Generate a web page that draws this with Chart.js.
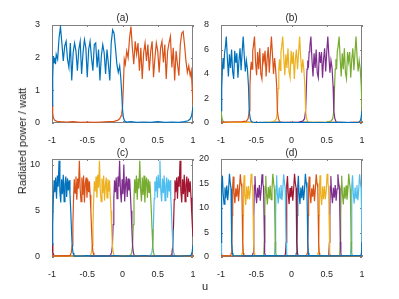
<!DOCTYPE html>
<html>
<head>
<meta charset="utf-8">
<script src="https://cdn.jsdelivr.net/npm/chart.js@4.4.1/dist/chart.umd.min.js"></script>
<style>
  html, body { margin: 0; padding: 0; background: #fff; }
  body { width: 399px; height: 299px; position: relative; overflow: hidden; font-family: "Liberation Sans", Arial, sans-serif; color: #262626; }
  canvas { position: absolute; left: 0; top: 0; }
  .lbl { position: absolute; transform: translate(-50%, -50%); white-space: nowrap; font-size: 10px; }
  .ylab { position: absolute; transform: translate(-50%, -50%) rotate(-90deg); white-space: nowrap; font-size: 11px; }
</style>
</head>
<body>
<canvas id="ca" width="399" height="299"></canvas>
<canvas id="cb" width="399" height="299"></canvas>
<canvas id="cc" width="399" height="299"></canvas>
<canvas id="cd" width="399" height="299"></canvas>
<div class="lbl" style="left:122.5px;top:16.5px">(a)</div>
<div class="lbl" style="left:291.5px;top:16.5px">(b)</div>
<div class="lbl" style="left:122.5px;top:151.5px">(c)</div>
<div class="lbl" style="left:291.5px;top:151.5px">(d)</div>
<div class="lbl" style="left:205px;top:286px;font-size:11px">u</div>
<div class="ylab" style="left:22px;top:141px">Radiated power / watt</div>
<script>
const colors = ['#0072BD', '#D95319', '#EDB120', '#7E2F8E', '#77AC30', '#4DBEEE', '#A2142F'];

const xTicks = [-1, -0.5, 0, 0.5, 1];
const yTicksA = [0, 1, 2, 3];
const yTicksB = [0, 2, 4, 6, 8];
const yTicksC = [0, 5, 10];
const yTicksD = [0, 5, 10, 15, 20];

// (a) two beams, [u, power]
const a1 = [[-1,0.52],[-0.99,1.4],[-0.98,2.05],[-0.97,1.85],[-0.96,2.0],[-0.95,1.8],[-0.94,2.1],[-0.92,1.95],[-0.90,2.6],[-0.88,2.95],[-0.86,2.45],[-0.84,1.9],[-0.82,2.35],[-0.80,2.5],[-0.78,1.95],[-0.76,1.7],[-0.74,2.45],[-0.72,1.3],[-0.70,2.15],[-0.68,2.45],[-0.66,2.2],[-0.64,1.6],[-0.62,2.25],[-0.60,2.5],[-0.58,1.5],[-0.56,2.15],[-0.54,2.55],[-0.52,2.3],[-0.50,1.4],[-0.48,2.25],[-0.46,2.5],[-0.44,2.0],[-0.42,1.6],[-0.40,2.4],[-0.38,2.45],[-0.36,1.7],[-0.34,2.25],[-0.32,1.3],[-0.30,2.05],[-0.28,2.4],[-0.26,2.15],[-0.24,1.5],[-0.22,2.25],[-0.20,1.8],[-0.18,1.3],[-0.16,2.45],[-0.14,2.85],[-0.12,2.75],[-0.10,2.3],[-0.08,1.8],[-0.06,1.55],[-0.04,1.75],[-0.025,1.4],[-0.012,0.95],[0,0.42],[0.012,0.18],[0.03,0.06],[0.06,0.03],[0.12,0.04],[0.2,0.02],[0.3,0.03],[0.4,0.02],[0.5,0.04],[0.6,0.02],[0.7,0.03],[0.8,0.02],[0.88,0.04],[0.93,0.07],[0.96,0.12],[0.98,0.22],[0.99,0.35],[1,0.5]];
const a2 = [[-1,0.55],[-0.99,0.3],[-0.98,0.15],[-0.96,0.08],[-0.93,0.05],[-0.88,0.04],[-0.8,0.03],[-0.7,0.04],[-0.6,0.02],[-0.5,0.03],[-0.4,0.02],[-0.3,0.03],[-0.2,0.04],[-0.12,0.05],[-0.07,0.08],[-0.04,0.13],[-0.02,0.22],[-0.01,0.32],[0,0.45],[0.012,1.1],[0.025,1.95],[0.04,1.8],[0.06,2.2],[0.08,2.0],[0.10,2.6],[0.12,2.95],[0.14,2.3],[0.16,1.8],[0.18,2.5],[0.20,2.1],[0.22,2.45],[0.24,1.6],[0.26,2.3],[0.28,1.35],[0.30,2.15],[0.32,2.45],[0.34,1.9],[0.36,2.4],[0.38,1.6],[0.40,2.2],[0.42,2.5],[0.44,1.4],[0.46,2.0],[0.48,2.45],[0.50,2.2],[0.52,1.55],[0.54,2.3],[0.56,2.5],[0.58,1.85],[0.60,2.4],[0.62,1.35],[0.64,2.2],[0.66,2.45],[0.68,2.65],[0.70,1.7],[0.72,2.3],[0.74,1.3],[0.76,2.2],[0.78,1.8],[0.80,1.45],[0.82,2.4],[0.84,2.75],[0.86,2.8],[0.88,2.4],[0.90,1.9],[0.92,1.55],[0.94,1.75],[0.96,1.45],[0.975,1.6],[0.988,1.1],[1,0.55]];

// (b) five beams
const b1 = [[-1,1.0],[-0.99,2.8],[-0.98,4.5],[-0.97,5.3],[-0.96,4.4],[-0.95,5.7],[-0.94,6.1],[-0.925,7.05],[-0.91,5.3],[-0.895,3.8],[-0.88,5.6],[-0.865,4.5],[-0.85,6.0],[-0.835,4.2],[-0.82,3.6],[-0.805,5.9],[-0.79,4.9],[-0.775,5.7],[-0.76,3.7],[-0.745,5.1],[-0.73,6.1],[-0.715,4.3],[-0.70,5.8],[-0.685,7.05],[-0.67,5.5],[-0.655,4.2],[-0.64,5.1],[-0.625,4.4],[-0.61,3.0],[-0.6,1.0],[-0.585,0.35],[-0.57,0.12],[-0.55,0.06],[-0.5,0.04],[-0.4,0.05],[-0.3,0.03],[-0.2,0.05],[-0.1,0.03],[0,0.04],[0.1,0.03],[0.2,0.05],[0.3,0.03],[0.4,0.04],[0.5,0.03],[0.7,0.05],[0.9,0.04],[0.95,0.05],[0.97,0.12],[0.985,0.35],[1,1.0]];
const b2 = [[-1,0.05],[-0.9,0.08],[-0.8,0.1],[-0.7,0.12],[-0.64,0.15],[-0.615,0.35],[-0.6,1.0],[-0.59,2.9],[-0.58,4.4],[-0.57,5.0],[-0.56,4.4],[-0.55,5.9],[-0.54,6.3],[-0.525,7.05],[-0.51,5.0],[-0.495,3.9],[-0.48,5.8],[-0.465,4.4],[-0.45,6.1],[-0.435,4.0],[-0.42,3.6],[-0.405,5.7],[-0.39,5.0],[-0.375,5.9],[-0.36,3.8],[-0.345,5.3],[-0.33,6.2],[-0.315,4.1],[-0.30,5.6],[-0.285,7.05],[-0.27,5.6],[-0.255,4.0],[-0.24,5.3],[-0.225,4.4],[-0.21,3.0],[-0.2,1.0],[-0.185,0.35],[-0.17,0.12],[-0.15,0.06],[-0.1,0.04],[0,0.05],[0.1,0.03],[0.2,0.05],[0.3,0.04],[0.4,0.05],[0.5,0.03],[0.6,0.05],[0.7,0.04],[0.8,0.03],[0.9,0.05],[1,0.04]];
const b3 = [[-1,0.04],[-0.8,0.05],[-0.6,0.04],[-0.4,0.05],[-0.3,0.08],[-0.24,0.15],[-0.215,0.35],[-0.2,1.0],[-0.19,2.8],[-0.18,4.4],[-0.17,5.2],[-0.16,4.3],[-0.15,5.8],[-0.14,6.2],[-0.125,7.05],[-0.11,5.4],[-0.095,3.9],[-0.08,5.6],[-0.065,4.5],[-0.05,6.1],[-0.035,4.2],[-0.02,3.7],[-0.005,5.9],[0.01,4.8],[0.025,5.8],[0.04,3.6],[0.055,5.2],[0.07,6.0],[0.085,4.4],[0.10,5.7],[0.115,7.05],[0.13,5.4],[0.145,4.1],[0.16,5.2],[0.175,4.4],[0.19,3.0],[0.2,1.0],[0.215,0.35],[0.23,0.12],[0.25,0.06],[0.3,0.05],[0.4,0.04],[0.6,0.05],[0.8,0.04],[1,0.05]];
const b4 = [[-1,0.05],[-0.8,0.04],[-0.6,0.05],[-0.4,0.03],[-0.2,0.05],[-0.1,0.06],[0.1,0.07],[0.16,0.15],[0.185,0.35],[0.2,1.0],[0.21,2.7],[0.22,4.4],[0.23,5.1],[0.24,4.5],[0.25,5.8],[0.26,6.2],[0.275,7.05],[0.29,5.2],[0.305,3.8],[0.32,5.7],[0.335,4.5],[0.35,6.0],[0.365,4.1],[0.38,3.7],[0.395,5.8],[0.41,4.9],[0.425,5.8],[0.44,3.7],[0.455,5.2],[0.47,6.1],[0.485,4.2],[0.50,5.8],[0.515,7.05],[0.53,5.5],[0.545,4.1],[0.56,5.1],[0.575,4.5],[0.59,3.0],[0.6,1.0],[0.615,0.35],[0.63,0.12],[0.65,0.06],[0.7,0.05],[0.8,0.04],[0.9,0.05],[1,0.04]];
const b5 = [[-1,1.0],[-0.985,0.35],[-0.97,0.12],[-0.95,0.06],[-0.9,0.05],[-0.8,0.04],[-0.6,0.05],[-0.4,0.04],[-0.2,0.05],[0,0.04],[0.2,0.05],[0.4,0.06],[0.5,0.07],[0.56,0.15],[0.585,0.35],[0.6,1.0],[0.61,2.8],[0.62,4.4],[0.63,5.2],[0.64,4.4],[0.65,5.9],[0.66,6.2],[0.675,7.05],[0.69,5.3],[0.705,3.8],[0.72,5.7],[0.735,4.4],[0.75,6.1],[0.765,4.1],[0.78,3.6],[0.795,5.8],[0.81,5.0],[0.825,5.8],[0.84,3.7],[0.855,5.2],[0.87,6.1],[0.885,4.3],[0.90,5.7],[0.915,7.05],[0.93,5.4],[0.945,4.2],[0.96,5.1],[0.975,4.4],[0.99,3.0],[1,1.0]];

// (c) seven beams
const c1 = [[-1,1.3],[-0.99,3.5],[-0.98,6.5],[-0.97,8.3],[-0.96,7.0],[-0.948,8.6],[-0.936,6.3],[-0.924,8.8],[-0.912,7.6],[-0.90,10.4],[-0.888,7.1],[-0.876,5.9],[-0.864,8.4],[-0.852,6.8],[-0.84,8.9],[-0.828,6.0],[-0.816,7.8],[-0.804,8.7],[-0.792,6.5],[-0.78,8.5],[-0.768,7.2],[-0.756,8.3],[-0.745,6.8],[-0.734,5.0],[-0.724,3.0],[-0.714,1.2],[-0.702,0.45],[-0.69,0.18],[-0.67,0.1],[-0.6,0.1],[-0.5,0.15],[-0.4,0.1],[-0.3,0.12],[-0.2,0.1],[-0.1,0.15],[0,0.1],[0.1,0.12],[0.2,0.1],[0.3,0.14],[0.4,0.1],[0.5,0.12],[0.6,0.1],[0.7,0.13],[0.8,0.1],[0.9,0.12],[0.96,0.12],[0.975,0.25],[0.988,0.55],[1,1.3]];
const c2 = [[-1,0.1],[-0.9,0.12],[-0.8,0.15],[-0.76,0.12],[-0.74,0.2],[-0.726,0.5],[-0.714,1.2],[-0.704,3.5],[-0.694,6.4],[-0.684,8.4],[-0.672,6.9],[-0.66,8.7],[-0.648,6.2],[-0.636,8.5],[-0.624,7.4],[-0.612,10.4],[-0.60,7.3],[-0.588,6.0],[-0.576,8.6],[-0.564,6.7],[-0.552,8.8],[-0.54,5.9],[-0.528,7.9],[-0.516,8.6],[-0.504,6.4],[-0.492,8.4],[-0.48,7.0],[-0.469,8.2],[-0.459,6.7],[-0.449,5.0],[-0.439,3.0],[-0.429,1.2],[-0.417,0.45],[-0.405,0.18],[-0.385,0.1],[-0.3,0.12],[-0.2,0.1],[-0.1,0.13],[0,0.1],[0.2,0.12],[0.4,0.1],[0.6,0.13],[0.8,0.1],[1,0.12]];
const c3 = [[-1,0.1],[-0.8,0.12],[-0.6,0.1],[-0.5,0.15],[-0.47,0.12],[-0.455,0.2],[-0.441,0.5],[-0.429,1.2],[-0.419,3.5],[-0.409,6.3],[-0.399,8.2],[-0.387,7.1],[-0.375,8.7],[-0.363,6.4],[-0.351,8.9],[-0.339,7.5],[-0.327,10.4],[-0.315,7.2],[-0.303,6.0],[-0.291,8.5],[-0.279,6.9],[-0.267,8.8],[-0.255,6.1],[-0.243,7.7],[-0.231,8.6],[-0.219,6.4],[-0.207,8.4],[-0.195,7.1],[-0.184,8.3],[-0.174,6.6],[-0.163,5.0],[-0.153,3.0],[-0.143,1.2],[-0.131,0.45],[-0.119,0.18],[-0.1,0.1],[0,0.12],[0.2,0.1],[0.4,0.12],[0.6,0.1],[0.8,0.13],[1,0.1]];
const c4 = [[-1,0.12],[-0.8,0.1],[-0.6,0.12],[-0.4,0.1],[-0.25,0.13],[-0.19,0.12],[-0.17,0.2],[-0.155,0.5],[-0.143,1.2],[-0.133,3.5],[-0.123,6.2],[-0.113,8.3],[-0.101,7.0],[-0.089,8.6],[-0.077,6.3],[-0.065,8.7],[-0.053,7.6],[-0.041,10.4],[-0.029,7.1],[-0.017,5.9],[-0.005,8.4],[0.007,6.8],[0.019,10.0],[0.031,6.0],[0.043,7.8],[0.055,8.7],[0.067,6.5],[0.079,8.5],[0.091,7.2],[0.102,8.4],[0.112,6.8],[0.123,5.0],[0.133,3.0],[0.143,1.2],[0.155,0.45],[0.167,0.18],[0.19,0.1],[0.3,0.12],[0.5,0.1],[0.7,0.12],[0.9,0.1],[1,0.12]];
const c5 = [[-1,0.1],[-0.6,0.12],[-0.2,0.1],[0,0.13],[0.09,0.12],[0.115,0.2],[0.131,0.5],[0.143,1.2],[0.153,3.5],[0.163,6.4],[0.173,8.4],[0.185,6.9],[0.197,8.8],[0.209,6.2],[0.221,8.5],[0.233,7.4],[0.245,10.4],[0.257,7.3],[0.269,6.0],[0.281,8.6],[0.293,6.7],[0.305,8.8],[0.317,5.9],[0.329,7.9],[0.341,8.6],[0.353,6.4],[0.365,8.4],[0.377,7.0],[0.388,8.2],[0.398,6.7],[0.409,5.0],[0.419,3.0],[0.429,1.2],[0.441,0.45],[0.453,0.18],[0.475,0.1],[0.6,0.12],[0.8,0.1],[1,0.12]];
const c6 = [[-1,0.12],[-0.5,0.1],[0,0.12],[0.3,0.1],[0.38,0.13],[0.40,0.2],[0.417,0.5],[0.429,1.2],[0.439,3.5],[0.449,6.3],[0.459,8.2],[0.471,7.1],[0.483,8.7],[0.495,6.4],[0.507,8.9],[0.519,7.5],[0.531,10.4],[0.543,7.2],[0.555,6.0],[0.567,8.5],[0.579,6.9],[0.591,8.8],[0.603,6.1],[0.615,7.7],[0.627,8.6],[0.639,6.4],[0.651,8.4],[0.663,7.1],[0.674,8.3],[0.684,6.6],[0.694,5.0],[0.704,3.0],[0.714,1.2],[0.726,0.45],[0.738,0.18],[0.76,0.1],[0.85,0.12],[1,0.1]];
const c7 = [[-1,1.5],[-0.988,0.5],[-0.976,0.2],[-0.95,0.1],[-0.8,0.12],[-0.5,0.1],[-0.2,0.12],[0.1,0.1],[0.4,0.12],[0.6,0.1],[0.67,0.12],[0.69,0.2],[0.702,0.5],[0.714,1.2],[0.724,3.5],[0.734,6.2],[0.744,8.3],[0.756,7.0],[0.768,8.6],[0.78,6.3],[0.792,8.7],[0.804,7.6],[0.816,10.4],[0.828,7.1],[0.84,5.9],[0.852,8.4],[0.864,6.8],[0.876,8.9],[0.888,6.0],[0.90,7.8],[0.912,8.7],[0.924,6.5],[0.936,8.5],[0.948,7.0],[0.96,8.2],[0.972,6.4],[0.982,4.8],[0.992,3.2],[1,2.2]];

// (d) thirteen beams
const d1 = [[-1,3.0],[-0.994,8.5],[-0.988,14.5],[-0.98,16.6],[-0.97,13.0],[-0.957,10.8],[-0.944,14.2],[-0.931,12.0],[-0.918,14.6],[-0.905,11.6],[-0.892,13.8],[-0.88,17.0],[-0.869,15.2],[-0.858,14.0],[-0.852,8.5],[-0.846,3.0],[-0.838,0.8],[-0.83,0.3],[-0.6,0.25],[-0.3,0.3],[0,0.25],[0.3,0.3],[0.6,0.25],[0.9,0.3],[0.984,0.3],[0.992,0.8],[1,3.0]];
const d2 = [[-1,0.3],[-0.9,0.25],[-0.862,0.3],[-0.854,0.8],[-0.846,3.0],[-0.84,8.5],[-0.834,14.5],[-0.826,16.4],[-0.816,13.3],[-0.803,11.0],[-0.79,14.0],[-0.777,12.3],[-0.764,14.8],[-0.751,11.4],[-0.738,14.0],[-0.726,16.9],[-0.715,15.0],[-0.704,14.2],[-0.698,8.5],[-0.692,3.0],[-0.684,0.8],[-0.676,0.3],[-0.4,0.25],[0,0.3],[0.4,0.25],[0.8,0.3],[1,0.25]];
const d3 = [[-1,0.25],[-0.8,0.3],[-0.708,0.3],[-0.7,0.8],[-0.692,3.0],[-0.686,8.5],[-0.68,14.3],[-0.672,16.7],[-0.662,12.8],[-0.649,10.6],[-0.636,14.4],[-0.623,11.8],[-0.61,14.5],[-0.597,11.8],[-0.584,13.6],[-0.572,17.0],[-0.561,15.3],[-0.55,13.8],[-0.544,8.5],[-0.538,3.0],[-0.53,0.8],[-0.522,0.3],[-0.2,0.25],[0.2,0.3],[0.6,0.25],[1,0.3]];
const d4 = [[-1,0.3],[-0.7,0.25],[-0.554,0.3],[-0.546,0.8],[-0.538,3.0],[-0.532,8.5],[-0.526,14.6],[-0.518,16.5],[-0.508,13.1],[-0.495,11.0],[-0.482,14.1],[-0.469,12.1],[-0.456,14.7],[-0.443,11.5],[-0.43,13.9],[-0.418,16.9],[-0.407,15.1],[-0.396,14.1],[-0.39,8.5],[-0.385,3.0],[-0.377,0.8],[-0.369,0.3],[-0.1,0.25],[0.3,0.3],[0.7,0.25],[1,0.3]];
const d5 = [[-1,0.25],[-0.6,0.3],[-0.401,0.3],[-0.393,0.8],[-0.385,3.0],[-0.379,8.5],[-0.373,14.4],[-0.365,16.6],[-0.355,12.9],[-0.342,10.7],[-0.329,14.3],[-0.316,11.9],[-0.303,14.6],[-0.29,11.7],[-0.277,13.7],[-0.265,17.0],[-0.254,15.2],[-0.243,13.9],[-0.237,8.5],[-0.231,3.0],[-0.223,0.8],[-0.215,0.3],[0.1,0.25],[0.5,0.3],[0.9,0.25],[1,0.3]];
const d6 = [[-1,0.3],[-0.5,0.25],[-0.247,0.3],[-0.239,0.8],[-0.231,3.0],[-0.225,8.5],[-0.219,14.5],[-0.211,16.7],[-0.201,13.0],[-0.188,10.9],[-0.175,14.2],[-0.162,12.0],[-0.149,14.7],[-0.136,11.6],[-0.123,13.8],[-0.111,16.9],[-0.1,15.2],[-0.089,14.0],[-0.083,8.5],[-0.077,3.0],[-0.069,0.8],[-0.061,0.3],[0.3,0.25],[0.7,0.3],[1,0.25]];
const d7 = [[-1,0.25],[-0.4,0.3],[-0.093,0.3],[-0.085,0.8],[-0.077,3.0],[-0.071,8.5],[-0.065,14.6],[-0.057,16.5],[-0.047,13.2],[-0.034,10.8],[-0.021,14.1],[-0.008,12.2],[0.005,14.5],[0.018,11.5],[0.031,13.9],[0.043,17.0],[0.054,15.1],[0.065,14.1],[0.071,8.5],[0.077,3.0],[0.085,0.8],[0.093,0.3],[0.4,0.25],[0.8,0.3],[1,0.25]];
const d8 = [[-1,0.3],[-0.3,0.25],[0.061,0.3],[0.069,0.8],[0.077,3.0],[0.083,8.5],[0.089,14.5],[0.097,16.6],[0.107,13.0],[0.12,10.8],[0.133,14.2],[0.146,12.0],[0.159,14.6],[0.172,11.6],[0.185,13.8],[0.197,17.0],[0.208,15.2],[0.219,14.0],[0.225,8.5],[0.231,3.0],[0.239,0.8],[0.247,0.3],[0.6,0.25],[1,0.3]];
const d9 = [[-1,0.25],[-0.2,0.3],[0.215,0.3],[0.223,0.8],[0.231,3.0],[0.237,8.5],[0.243,14.3],[0.251,16.4],[0.261,13.3],[0.274,11.0],[0.287,14.0],[0.3,12.3],[0.313,14.8],[0.326,11.4],[0.339,14.0],[0.351,16.9],[0.362,15.0],[0.373,14.2],[0.379,8.5],[0.385,3.0],[0.393,0.8],[0.401,0.3],[0.7,0.25],[1,0.3]];
const d10 = [[-1,0.3],[-0.1,0.25],[0.369,0.3],[0.377,0.8],[0.385,3.0],[0.391,8.5],[0.397,14.6],[0.405,16.7],[0.415,12.8],[0.428,10.6],[0.441,14.4],[0.454,11.8],[0.467,14.5],[0.48,11.8],[0.493,13.6],[0.505,17.0],[0.516,15.3],[0.527,13.8],[0.533,8.5],[0.538,3.0],[0.546,0.8],[0.554,0.3],[0.8,0.25],[1,0.3]];
const d11 = [[-1,0.25],[0,0.3],[0.522,0.3],[0.53,0.8],[0.538,3.0],[0.544,8.5],[0.55,14.4],[0.558,16.5],[0.568,13.1],[0.581,11.0],[0.594,14.1],[0.607,12.1],[0.62,14.7],[0.633,11.5],[0.646,13.9],[0.658,16.9],[0.669,15.1],[0.68,14.1],[0.686,8.5],[0.692,3.0],[0.7,0.8],[0.708,0.3],[0.9,0.25],[1,0.3]];
const d12 = [[-1,0.3],[0.1,0.25],[0.676,0.3],[0.684,0.8],[0.692,3.0],[0.698,8.5],[0.704,14.5],[0.712,16.6],[0.722,12.9],[0.735,10.7],[0.748,14.3],[0.761,11.9],[0.774,14.6],[0.787,11.7],[0.8,13.7],[0.812,17.0],[0.823,15.2],[0.834,13.9],[0.84,8.5],[0.846,3.0],[0.854,0.8],[0.862,0.3],[1,0.25]];
const d13 = [[-1,3.0],[-0.992,0.8],[-0.984,0.3],[-0.7,0.25],[-0.3,0.3],[0.1,0.25],[0.5,0.3],[0.83,0.3],[0.838,0.8],[0.846,3.0],[0.852,8.5],[0.858,14.5],[0.866,16.7],[0.876,13.0],[0.889,10.9],[0.902,14.2],[0.915,12.0],[0.928,14.7],[0.941,11.6],[0.954,13.8],[0.966,16.9],[0.977,15.2],[0.988,14.0],[0.994,8.5],[1,3.0]];

const tickFont = { family: '"Liberation Sans", Arial, sans-serif', size: 9 };

// box round the plot area with small inward ticks on every side
const boxTicks = {
  id: 'boxTicks',
  beforeDatasetsDraw(chart) {
    const { ctx, chartArea: a, scales: { x, y } } = chart;
    ctx.save();
    ctx.strokeStyle = '#808080';
    ctx.lineWidth = 1;
    ctx.strokeRect(a.left + 0.5, a.top + 0.5, a.width - 1, a.height - 1);
    ctx.beginPath();
    x.ticks.forEach(t => {
      const px = Math.round(x.getPixelForValue(t.value)) + 0.5;
      ctx.moveTo(px, a.bottom); ctx.lineTo(px, a.bottom - 2);
      ctx.moveTo(px, a.top); ctx.lineTo(px, a.top + 2);
    });
    y.ticks.forEach(t => {
      const py = Math.round(y.getPixelForValue(t.value)) + 0.5;
      ctx.moveTo(a.left, py); ctx.lineTo(a.left + 2, py);
      ctx.moveTo(a.right, py); ctx.lineTo(a.right - 2, py);
    });
    ctx.stroke();
    ctx.restore();
  }
};

function makeChart(id, series, yMax, yTicks, pad) {
  new Chart(document.getElementById(id), {
    type: 'line',
    data: {
      datasets: series.map((s, i) => ({
        data: s.map(p => ({ x: p[0], y: p[1] })),
        borderColor: colors[i % colors.length],
        borderWidth: 1.2,
        pointRadius: 0,
        tension: 0,
        fill: false
      }))
    },
    options: {
      responsive: false,
      animation: false,
      events: [],
      layout: { padding: pad },
      plugins: { legend: { display: false }, tooltip: { enabled: false } },
      scales: {
        x: {
          type: 'linear', min: -1, max: 1,
          afterBuildTicks: s => { s.ticks = xTicks.map(v => ({ value: v })); },
          afterFit: s => { s.height = 20; },
          grid: { display: false }, border: { display: false },
          ticks: { font: tickFont, color: '#262626', padding: 4, maxRotation: 0, autoSkip: false, callback: v => String(v) }
        },
        y: {
          type: 'linear', min: 0, max: yMax,
          afterBuildTicks: s => { s.ticks = yTicks.map(v => ({ value: v })); },
          afterFit: s => { s.width = 30; },
          grid: { display: false }, border: { display: false },
          ticks: { font: tickFont, color: '#262626', padding: 4, autoSkip: false, callback: v => String(v) }
        }
      }
    },
    plugins: [boxTicks]
  });
}

makeChart('ca', [a1, a2], 3, yTicksA, { left: 22, top: 25, right: 206, bottom: 156 });
makeChart('cb', [b1, b2, b3, b4, b5], 8, yTicksB, { left: 191, top: 25, right: 37, bottom: 156 });
makeChart('cc', [c1, c2, c3, c4, c5, c6, c7], 10.6, yTicksC, { left: 22, top: 159, right: 206, bottom: 22 });
makeChart('cd', [d1, d2, d3, d4, d5, d6, d7, d8, d9, d10, d11, d12, d13], 20, yTicksD, { left: 191, top: 159, right: 37, bottom: 22 });
</script>
</body>
</html>
